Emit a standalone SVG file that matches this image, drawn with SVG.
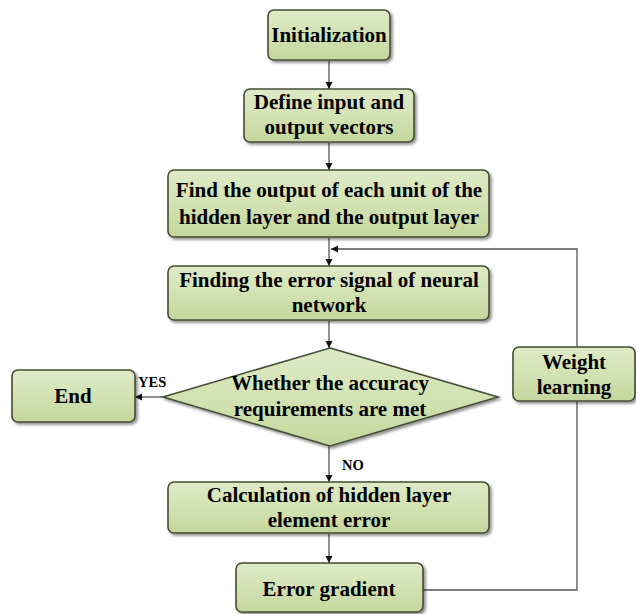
<svg xmlns="http://www.w3.org/2000/svg" width="636" height="614" viewBox="0 0 636 614">
<defs>
<linearGradient id="g" x1="0" y1="0" x2="0" y2="1">
<stop offset="0" stop-color="#dfeac6"/>
<stop offset="0.5" stop-color="#d3e2b3"/>
<stop offset="1" stop-color="#c4d69c"/>
</linearGradient>
<filter id="sh" x="-10%" y="-10%" width="125%" height="130%">
<feGaussianBlur in="SourceAlpha" stdDeviation="1.5"/>
<feOffset dx="1.5" dy="2" result="o"/>
<feComponentTransfer><feFuncA type="linear" slope="0.45"/></feComponentTransfer>
<feMerge><feMergeNode/><feMergeNode in="SourceGraphic"/></feMerge>
</filter>
<marker id="ah" markerUnits="userSpaceOnUse" markerWidth="10" markerHeight="10" refX="7" refY="3.5" orient="auto">
<path d="M0,0 L7,3.5 L0,7 Z" fill="#111"/>
</marker>
</defs>
<style>
.box{fill:url(#g);stroke:#454c34;stroke-width:1.6;filter:url(#sh)}
.t{font-family:"Liberation Serif","Times New Roman",serif;font-weight:bold;font-size:21px;fill:#000;text-anchor:middle}
.s{font-family:"Liberation Serif","Times New Roman",serif;font-weight:bold;font-size:14.5px;fill:#000}
.c{fill:none;stroke:#555;stroke-width:1.3}
.a{marker-end:url(#ah)}
</style>
<g id="connectors">
<line class="c a" x1="329" y1="61" x2="329" y2="89"/>
<line class="c a" x1="329" y1="143" x2="329" y2="170"/>
<line class="c a" x1="329" y1="238" x2="329" y2="266"/>
<polyline class="c a" points="423,590 577,590 577,249 331,249"/>
<line class="c a" x1="329" y1="321" x2="329" y2="348"/>
<line class="c a" x1="163" y1="397" x2="135" y2="397"/>
<line class="c a" x1="329" y1="446" x2="329" y2="482"/>
<line class="c a" x1="329" y1="534" x2="329" y2="563"/>
<text class="s" x="138" y="387">YES</text>
<text class="s" x="342" y="470">NO</text>
</g>
<g id="init">
<rect class="box" x="268" y="10" width="122" height="50" rx="6"/>
<text class="t" x="329" y="42">Initialization</text>
</g>
<g id="define">
<rect class="box" x="244" y="89" width="170" height="53" rx="6"/>
<text class="t" x="329" y="109">Define input and</text>
<text class="t" x="329" y="134">output vectors</text>
</g>
<g id="findoutput">
<rect class="box" x="168" y="170" width="321" height="67" rx="6"/>
<text class="t" x="329" y="197">Find the output of each unit of the</text>
<text class="t" x="329" y="224">hidden layer and the output layer</text>
</g>
<g id="finderror">
<rect class="box" x="168" y="266" width="321" height="54" rx="6"/>
<text class="t" x="329" y="287">Finding the error signal of neural</text>
<text class="t" x="329" y="312">network</text>
</g>
<g id="decision">
<polygon class="box" points="330,348 498,397 330,446 163,397"/>
<text class="t" x="330" y="390">Whether the accuracy</text>
<text class="t" x="330" y="416">requirements are met</text>
</g>
<g id="end">
<rect class="box" x="12" y="370" width="123" height="52" rx="6"/>
<text class="t" x="73" y="403">End</text>
</g>
<g id="weight">
<rect class="box" x="513" y="347" width="122" height="54" rx="6"/>
<text class="t" x="574" y="369">Weight</text>
<text class="t" x="574" y="394">learning</text>
</g>
<g id="calc">
<rect class="box" x="168" y="482" width="321" height="51" rx="6"/>
<text class="t" x="329" y="502">Calculation of hidden layer</text>
<text class="t" x="329" y="527">element error</text>
</g>
<g id="gradient">
<rect class="box" x="236" y="563" width="187" height="49" rx="6"/>
<text class="t" x="329" y="596">Error gradient</text>
</g>
</svg>
